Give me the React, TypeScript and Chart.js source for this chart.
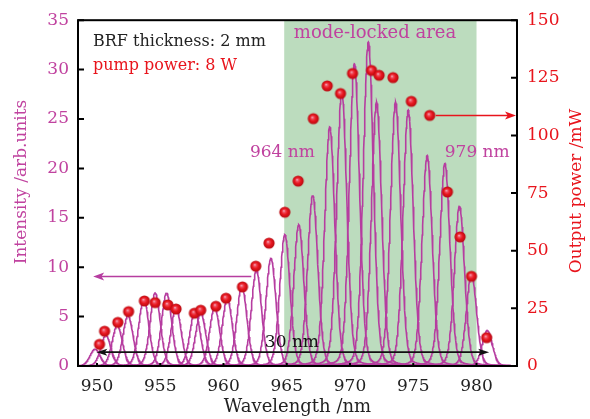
import React, { useEffect, useRef } from "react";
import { Chart, registerables } from "chart.js";
Chart.register(...registerables);

// ---- data ----
const peakCenters = [
  949.85, 950.7, 951.6, 952.45, 953.7, 954.6, 955.5, 956.25, 957.75, 958.2,
  959.3, 960.3, 961.45, 962.6, 963.75, 964.85, 965.95, 967.05, 968.4, 969.35,
  970.35, 971.45, 972.1, 973.6, 974.6, 976.1, 977.5, 978.65, 979.6, 980.85,
];
const peakHeights = [
  1.7, 3.1, 4.1, 5.1, 6.8, 7.4, 7.4, 5.9, 5.6, 5.4,
  5.9, 6.8, 8.1, 9.7, 10.9, 13.3, 14.3, 17.3, 24.2, 27.8,
  30.6, 32.8, 26.7, 26.7, 25.9, 21.3, 20.5, 16.2, 9.3, 3.6,
];
const peakWidthNm = 0.95;

const powerWavelengths = [
  950.2, 950.6, 951.65, 952.5, 953.75, 954.6, 955.6, 956.25, 957.7, 958.2,
  959.4, 960.2, 961.5, 962.55, 963.6, 964.85, 965.9, 967.1, 968.2, 969.25,
  970.2, 971.7, 972.3, 973.4, 974.85, 976.3, 977.7, 978.7, 979.6, 980.8,
];
const powerValues = [
  9.4, 15.1, 18.9, 23.6, 28.2, 27.5, 26.5, 24.7, 22.9, 24.2,
  25.9, 29.4, 34.3, 43.3, 53.3, 66.7, 80.2, 107.3, 121.5, 118.2,
  126.9, 128.2, 126.1, 125.1, 114.8, 108.7, 75.5, 56.0, 38.9, 12.3,
];

const xTicks = [950, 955, 960, 965, 970, 975, 980];
const intensityTicks = [0, 5, 10, 15, 20, 25, 30, 35];
const powerTicks = [0, 25, 50, 75, 100, 125, 150];
const modeLockedRange = [964.8, 980.0];

const MAGENTA = "#b63da0";
const MAGENTA_TEXT = "#c0429f";
const RED = "#e8141c";
const GREEN = "#bcdcbe";
const FONT = '"DejaVu Serif", serif';

function lineShape(x: number, c: number, h: number, w: number) {
  const d = x - c;
  const g = Math.exp((-4 * Math.LN2 * d * d) / (w * w));
  const l = 1 / (1 + (4 * d * d) / (w * w));
  return h * (0.85 * g + 0.15 * l);
}

function makeSphere(r: number) {
  const s = Math.ceil(r * 2) + 2;
  const c = document.createElement("canvas");
  c.width = s;
  c.height = s;
  const g = c.getContext("2d")!;
  const cx = s / 2, cy = s / 2;
  const grad = g.createRadialGradient(cx - r * 0.2, cy - r * 0.25, 0, cx, cy, r);
  grad.addColorStop(0, "#f6d6e6");
  grad.addColorStop(0.2, "#f05566");
  grad.addColorStop(0.55, "#e8161e");
  grad.addColorStop(1, "#b50a12");
  g.fillStyle = grad;
  g.beginPath();
  g.arc(cx, cy, r, 0, Math.PI * 2);
  g.fill();
  return c;
}

function arrowHead(ctx: CanvasRenderingContext2D, x: number, y: number, dir: number, len: number, hw: number) {
  ctx.beginPath();
  ctx.moveTo(x, y);
  ctx.lineTo(x - dir * len, y - hw);
  ctx.lineTo(x - dir * len * 0.75, y);
  ctx.lineTo(x - dir * len, y + hw);
  ctx.closePath();
  ctx.fill();
}

const overlay = {
  id: "overlay",
  beforeDatasetsDraw(chart: any) {
    const { ctx, chartArea: a, scales } = chart;
    const x = scales.x;
    ctx.save();
    ctx.fillStyle = GREEN;
    const x0 = x.getPixelForValue(modeLockedRange[0]);
    const x1 = x.getPixelForValue(modeLockedRange[1]);
    ctx.fillRect(x0, a.top, x1 - x0, a.bottom - a.top);
    ctx.restore();
  },
  afterDatasetsDraw(chart: any) {
    const { ctx, chartArea: a, scales } = chart;
    const x = scales.x, y = scales.y, y2 = scales.y2;
    ctx.save();

    // magenta arrow pointing to left axis
    const my = y.getPixelForValue(9.07);
    ctx.strokeStyle = MAGENTA;
    ctx.fillStyle = MAGENTA;
    ctx.lineWidth = 1.5;
    const mxs = x.getPixelForValue(962.2), mxe = x.getPixelForValue(949.7);
    ctx.beginPath();
    ctx.moveTo(mxs, my);
    ctx.lineTo(mxe + 6, my);
    ctx.stroke();
    arrowHead(ctx, mxe, my, -1, 11, 4);

    // red arrow pointing to right axis
    const ry = y2.getPixelForValue(108.7);
    ctx.strokeStyle = RED;
    ctx.fillStyle = RED;
    const rxs = x.getPixelForValue(976.3) + 6, rxe = a.right - 1;
    ctx.beginPath();
    ctx.moveTo(rxs, ry);
    ctx.lineTo(rxe - 6, ry);
    ctx.stroke();
    arrowHead(ctx, rxe, ry, 1, 11, 4);

    // black double arrow (30 nm)
    const by = y.getPixelForValue(1.4);
    ctx.strokeStyle = "#111";
    ctx.fillStyle = "#111";
    ctx.lineWidth = 1.6;
    const bxs = x.getPixelForValue(949.95), bxe = x.getPixelForValue(981.0);
    ctx.beginPath();
    ctx.moveTo(bxs + 6, by);
    ctx.lineTo(bxe - 6, by);
    ctx.stroke();
    arrowHead(ctx, bxs, by, -1, 11, 3.5);
    arrowHead(ctx, bxe, by, 1, 11, 3.5);

    // texts
    ctx.textAlign = "left";
    ctx.textBaseline = "alphabetic";
    const txt = (s: string, wl: number, v: number, col: string, size: number) => {
      ctx.font = `${size}px ${FONT}`;
      ctx.fillStyle = col;
      ctx.fillText(s, x.getPixelForValue(wl), y.getPixelForValue(v));
    };
    txt("BRF thickness: 2 mm", 949.69, 32.41, "#222", 16);
    txt("pump power: 8 W", 949.69, 30.01, RED, 16);
    txt("mode-locked area", 965.56, 33.2, MAGENTA_TEXT, 18);
    txt("964 nm", 962.09, 21.14, MAGENTA_TEXT, 17);
    txt("979 nm", 977.49, 21.14, MAGENTA_TEXT, 17);
    txt("30 nm", 963.27, 1.89, "#111", 17);

    // frame and inward ticks
    ctx.strokeStyle = "#000";
    ctx.lineWidth = 2;
    ctx.strokeRect(a.left, a.top, a.right - a.left, a.bottom - a.top);
    ctx.beginPath();
    for (const t of intensityTicks) {
      const p = y.getPixelForValue(t);
      ctx.moveTo(a.left, p);
      ctx.lineTo(a.left + 6, p);
    }
    for (const t of powerTicks) {
      const p = y2.getPixelForValue(t);
      ctx.moveTo(a.right, p);
      ctx.lineTo(a.right - 6, p);
    }
    for (const t of xTicks) {
      const p = x.getPixelForValue(t);
      ctx.moveTo(p, a.bottom);
      ctx.lineTo(p, a.bottom - 3);
    }
    ctx.stroke();

    // axis titles
    ctx.textAlign = "center";
    ctx.textBaseline = "middle";
    ctx.font = `18px ${FONT}`;
    ctx.fillStyle = "#222";
    ctx.fillText("Wavelength /nm", (a.left + a.right) / 2, 407);
    ctx.font = `17px ${FONT}`;
    ctx.save();
    ctx.translate(22, 182);
    ctx.rotate(-Math.PI / 2);
    ctx.fillStyle = MAGENTA_TEXT;
    ctx.fillText("Intensity /arb.units", 0, 0);
    ctx.restore();
    ctx.save();
    ctx.translate(577, 191);
    ctx.rotate(-Math.PI / 2);
    ctx.fillStyle = RED;
    ctx.fillText("Output power /mW", 0, 0);
    ctx.restore();

    ctx.restore();
  },
};

export default function App() {
  const ref = useRef<HTMLCanvasElement | null>(null);
  useEffect(() => {
    if (!ref.current) return;
    const xMin = 948.5, xMax = 983.2;
    const grid: number[] = [];
    for (let v = xMin; v <= xMax + 1e-9; v += 0.03) grid.push(v);
    const curveSets = peakCenters.map((c, i) => ({
      type: "line" as const,
      data: grid.map((g) => ({ x: g, y: lineShape(g, c, peakHeights[i], peakWidthNm) })),
      borderColor: MAGENTA,
      borderWidth: 1.6,
      pointRadius: 0,
      fill: false,
      tension: 0,
      yAxisID: "y",
      order: 2,
    }));
    const sphere = makeSphere(5.6);
    const pointsSet = {
      type: "scatter" as const,
      data: powerWavelengths.map((w, i) => ({ x: w, y: powerValues[i] })),
      pointStyle: sphere as any,
      pointRadius: 6,
      yAxisID: "y2",
      order: 0,
    };
    const tickFont = { family: FONT, size: 17 };
    const chart = new Chart(ref.current, {
      type: "scatter",
      data: { datasets: [pointsSet as any, ...curveSets] },
      options: {
        animation: false,
        responsive: false,
        devicePixelRatio: 1,
        layout: { padding: { top: 15, left: 0, right: 0, bottom: 0 } },
        plugins: { legend: { display: false }, tooltip: { enabled: false } },
        scales: {
          x: {
            type: "linear",
            min: xMin,
            max: xMax,
            afterBuildTicks: (s: any) => { s.ticks = xTicks.map((v) => ({ value: v })); },
            afterFit: (s: any) => { s.height = 53; },
            grid: { display: false, drawTicks: false },
            border: { display: false },
            ticks: { font: tickFont, color: "#222", padding: 10, maxRotation: 0, callback: (v: any) => String(v) },
          },
          y: {
            position: "left",
            min: 0,
            max: 35,
            afterBuildTicks: (s: any) => { s.ticks = intensityTicks.map((v) => ({ value: v })); },
            afterFit: (s: any) => { s.width = 78; },
            grid: { display: false, drawTicks: false },
            border: { display: false },
            ticks: { font: tickFont, color: MAGENTA_TEXT, padding: 9 },
          },
          y2: {
            position: "right",
            min: 0,
            max: 150,
            afterBuildTicks: (s: any) => { s.ticks = powerTicks.map((v) => ({ value: v })); },
            afterFit: (s: any) => { s.width = 73; },
            grid: { display: false, drawTicks: false },
            border: { display: false },
            ticks: { font: tickFont, color: RED, padding: 10 },
          },
        },
      },
      plugins: [overlay],
    } as any);
    return () => chart.destroy();
  }, []);
  return (
    <div style={{ position: "fixed", left: 0, top: 0, width: 590, height: 419, background: "#fff" }}>
      <canvas ref={ref} width={590} height={419} />
    </div>
  );
}
